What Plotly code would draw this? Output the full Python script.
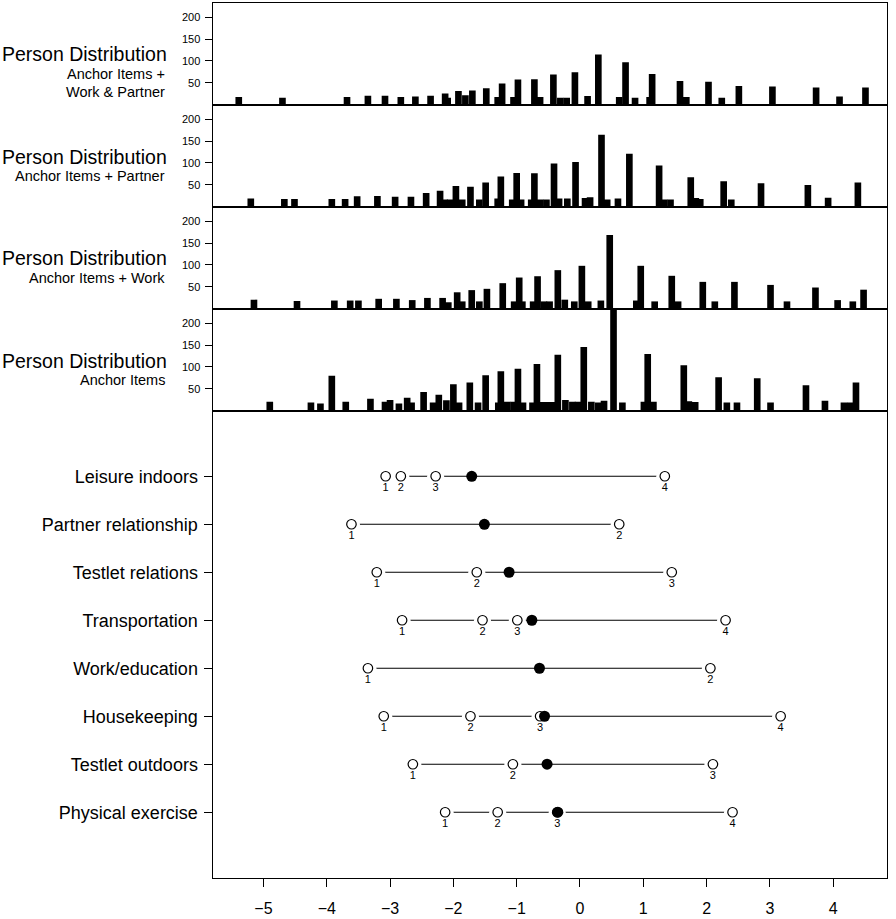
import plotly.graph_objects as go

W, H = 896, 919
FONT = "Liberation Sans, Arial, Helvetica, sans-serif"

# ---------------- data ----------------
panel_titles = ["Person Distribution"] * 4
panel_subtitles = [["Anchor Items +", "Work & Partner"],
                   ["Anchor Items + Partner"],
                   ["Anchor Items + Work"],
                   ["Anchor Items"]]

p1_x = [-5.39, -4.70, -3.68, -3.35, -3.08, -2.83, -2.60, -2.36, -2.13, -2.09,
        -1.92, -1.81, -1.70, -1.48, -1.30, -1.23, -1.05, -0.98, -0.72, -0.63,
        -0.42, -0.31, -0.21, -0.08, 0.12, 0.29, 0.62, 0.72, 0.87, 1.10,
        1.14, 1.58, 1.68, 2.03, 2.24, 2.51, 3.04, 3.73, 4.10, 4.51]
p1_y = [17, 15, 17, 20, 20, 17, 18, 20, 25, 15,
        31, 21, 32, 37, 17, 48, 17, 57, 58, 17,
        69, 15, 15, 74, 19, 115, 17, 97, 15, 17,
        70, 54, 17, 52, 15, 42, 41, 39, 18, 39]

p2_x = [-5.20, -4.67, -4.51, -3.92, -3.71, -3.52, -3.20, -2.92, -2.67, -2.43,
        -2.21, -2.14, -2.05, -1.96, -1.86, -1.73, -1.59, -1.49, -1.30, -1.25,
        -1.07, -1.00, -0.93, -0.77, -0.72, -0.63, -0.53, -0.41, -0.33, -0.20,
        -0.07, 0.08, 0.16, 0.34, 0.43, 0.60, 0.78, 1.25, 1.33, 1.43,
        1.75, 1.83, 1.90, 2.27, 2.39, 2.86, 3.60, 3.92, 4.39]
p2_y = [18, 17, 17, 17, 17, 23, 24, 22, 22, 31,
        36, 16, 16, 47, 16, 45, 16, 55, 18, 69,
        16, 77, 16, 16, 76, 16, 16, 99, 18, 18,
        102, 19, 21, 165, 16, 18, 121, 94, 16, 16,
        67, 19, 17, 58, 16, 53, 49, 20, 55]

p3_x = [-5.15, -4.47, -3.88, -3.63, -3.50, -3.18, -2.90, -2.65, -2.41, -2.17,
        -2.08, -1.94, -1.86, -1.71, -1.59, -1.47, -1.22, -1.04, -0.96, -0.91,
        -0.74, -0.67, -0.57, -0.48, -0.35, -0.24, -0.09, 0.03, 0.13, 0.33,
        0.47, 0.89, 0.96, 1.18, 1.45, 1.55, 1.94, 2.13, 2.44, 3.01,
        3.27, 3.72, 4.07, 4.31, 4.48]
p3_y = [20, 17, 18, 18, 18, 22, 22, 19, 24, 24,
        14, 37, 16, 42, 16, 45, 58, 16, 71, 16,
        16, 74, 16, 16, 88, 20, 16, 98, 16, 18,
        169, 18, 98, 16, 75, 16, 61, 16, 61, 54,
        16, 48, 19, 16, 43]

p4_x = [-4.90, -4.25, -4.10, -3.92, -3.70, -3.31, -3.08, -3.00, -2.86, -2.73,
        -2.66, -2.47, -2.32, -2.23, -2.11, -2.00, -1.91, -1.74, -1.61, -1.49,
        -1.29, -1.25, -1.15, -1.05, -0.98, -0.90, -0.75, -0.68, -0.60, -0.52,
        -0.44, -0.35, -0.23, -0.12, -0.03, 0.06, 0.18, 0.29, 0.38, 0.53,
        0.67, 1.01, 1.07, 1.16, 1.64, 1.72, 1.82, 2.19, 2.32, 2.48,
        2.80, 3.01, 3.57, 3.87, 4.17, 4.27, 4.36]
p4_y = [20, 18, 16, 80, 20, 27, 20, 24, 16, 29,
        18, 42, 18, 36, 23, 60, 18, 64, 18, 81,
        18, 90, 20, 20, 96, 18, 18, 107, 19, 19,
        19, 128, 24, 20, 20, 146, 20, 18, 22, 234,
        18, 20, 130, 20, 104, 21, 19, 76, 18, 18,
        74, 18, 58, 22, 18, 18, 64]

hist_ticks = [50, 100, 150, 200]

items = ["Leisure indoors", "Partner relationship", "Testlet relations",
         "Transportation", "Work/education", "Housekeeping",
         "Testlet outdoors", "Physical exercise"]
thresholds = [[-3.07, -2.83, -2.28, 1.34],
              [-3.61, 0.62],
              [-3.21, -1.63, 1.45],
              [-2.81, -1.54, -0.99, 2.30],
              [-3.35, 2.06],
              [-3.10, -1.73, -0.63, 3.17],
              [-2.64, -1.06, 2.10],
              [-2.13, -1.30, -0.36, 2.41]]
locations = [-1.71, -1.51, -1.12, -0.76, -0.64, -0.56, -0.52, -0.35]

x_ticks = [-5, -4, -3, -2, -1, 0, 1, 2, 3, 4]

# ---------------- layout helpers (pixel -> paper) ----------------
def px(x):
    return x / W


def py(y):
    return 1 - y / H


XR = [-5.805, 4.85]
XDOM = [px(212.5), px(887)]
panel_px = [(3, 105), (105, 207), (207, 309), (309, 411)]
bottom_px = (411, 877.5)

fig = go.Figure()

hists = [(p1_x, p1_y), (p2_x, p2_y), (p3_x, p3_y), (p4_x, p4_y)]
for i, (xs, ys) in enumerate(hists, start=1):
    ax = "" if i == 1 else str(i)
    fig.add_trace(go.Bar(x=xs, y=ys, width=0.105,
                         marker=dict(color="black", line=dict(width=0)),
                         xaxis="x" + ax, yaxis="y" + ax,
                         showlegend=False, hoverinfo="skip"))

# item rows: connecting line, white gap halo, open thresholds, filled location
ypos = list(range(1, len(items) + 1))
for k, th in enumerate(thresholds):
    fig.add_trace(go.Scatter(x=th, y=[ypos[k]] * len(th), mode="lines",
                             line=dict(color="black", width=1.2),
                             xaxis="x5", yaxis="y5", showlegend=False,
                             hoverinfo="skip"))
for k, th in enumerate(thresholds):
    fig.add_trace(go.Scatter(x=th, y=[ypos[k]] * len(th), mode="markers",
                             marker=dict(color="white", size=17, line=dict(width=0)),
                             xaxis="x5", yaxis="y5", showlegend=False,
                             hoverinfo="skip"))
for k, th in enumerate(thresholds):
    fig.add_trace(go.Scatter(x=th, y=[ypos[k]] * len(th), mode="markers+text",
                             text=[str(j + 1) for j in range(len(th))],
                             textposition="bottom center",
                             textfont=dict(family=FONT, size=11, color="black"),
                             marker=dict(color="white", size=9.5,
                                         line=dict(color="black", width=1.2)),
                             xaxis="x5", yaxis="y5", showlegend=False,
                             hoverinfo="skip"))
fig.add_trace(go.Scatter(x=locations, y=ypos, mode="markers",
                         marker=dict(color="black", size=11, line=dict(width=0)),
                         xaxis="x5", yaxis="y5", showlegend=False,
                         hoverinfo="skip"))

layout = dict(
    width=W, height=H,
    margin=dict(l=0, r=0, t=0, b=0),
    paper_bgcolor="white", plot_bgcolor="white",
    font=dict(family=FONT, color="black"),
    barmode="overlay",
    showlegend=False,
)

for i, (top, bot) in enumerate(panel_px, start=1):
    ax = "" if i == 1 else str(i)
    layout["xaxis" + ax] = dict(domain=XDOM, range=XR, anchor="y" + ax,
                                showticklabels=False, ticks="",
                                showline=True, mirror=True, linecolor="black",
                                linewidth=1, showgrid=False, zeroline=False)
    layout["yaxis" + ax] = dict(domain=[py(bot), py(top)], range=[-1.5, 233.5],
                                anchor="x" + ax, tickvals=hist_ticks,
                                ticks="outside", ticklen=7, tickwidth=1,
                                tickcolor="black", ticklabelstandoff=2,
                                tickfont=dict(family=FONT, size=11, color="black"),
                                showline=True, mirror=True, linecolor="black",
                                linewidth=1, showgrid=False, zeroline=False)

layout["xaxis5"] = dict(domain=XDOM, range=XR, anchor="y5",
                        tickvals=x_ticks, ticks="outside", ticklen=8,
                        tickwidth=1, tickcolor="black", ticklabelstandoff=8,
                        tickfont=dict(family=FONT, size=16, color="black"),
                        showline=True, mirror=True, linecolor="black",
                        linewidth=1, showgrid=False, zeroline=False)
layout["yaxis5"] = dict(domain=[py(bottom_px[1]), py(bottom_px[0])],
                        range=[9.36, -0.36], anchor="x5",
                        tickvals=ypos, ticktext=items,
                        ticks="outside", ticklen=8, tickwidth=1,
                        tickcolor="black", ticklabelstandoff=2,
                        tickfont=dict(family=FONT, size=18, color="black"),
                        showline=True, mirror=True, linecolor="black",
                        linewidth=1, showgrid=False, zeroline=False)

annotations = []
title_y = [54.5, 156.5, 258.5, 361]
sub_y = [[74, 92], [176], [278], [380]]
for t, subs, ty, sys_ in zip(panel_titles, panel_subtitles, title_y, sub_y):
    annotations.append(dict(text=t, x=px(169), y=py(ty), xref="paper", yref="paper",
                            xanchor="right", yanchor="middle", showarrow=False,
                            font=dict(family=FONT, size=19.5, color="black")))
    for s, sy in zip(subs, sys_):
        annotations.append(dict(text=s, x=px(167), y=py(sy), xref="paper", yref="paper",
                                xanchor="right", yanchor="middle", showarrow=False,
                                font=dict(family=FONT, size=14.5, color="black")))
layout["annotations"] = annotations

fig.update_layout(**layout)
fig.write_html("out.html",
               config={"displayModeBar": False},
               post_script="document.body.style.margin='0px';"
                           "document.body.style.overflow='hidden';")
